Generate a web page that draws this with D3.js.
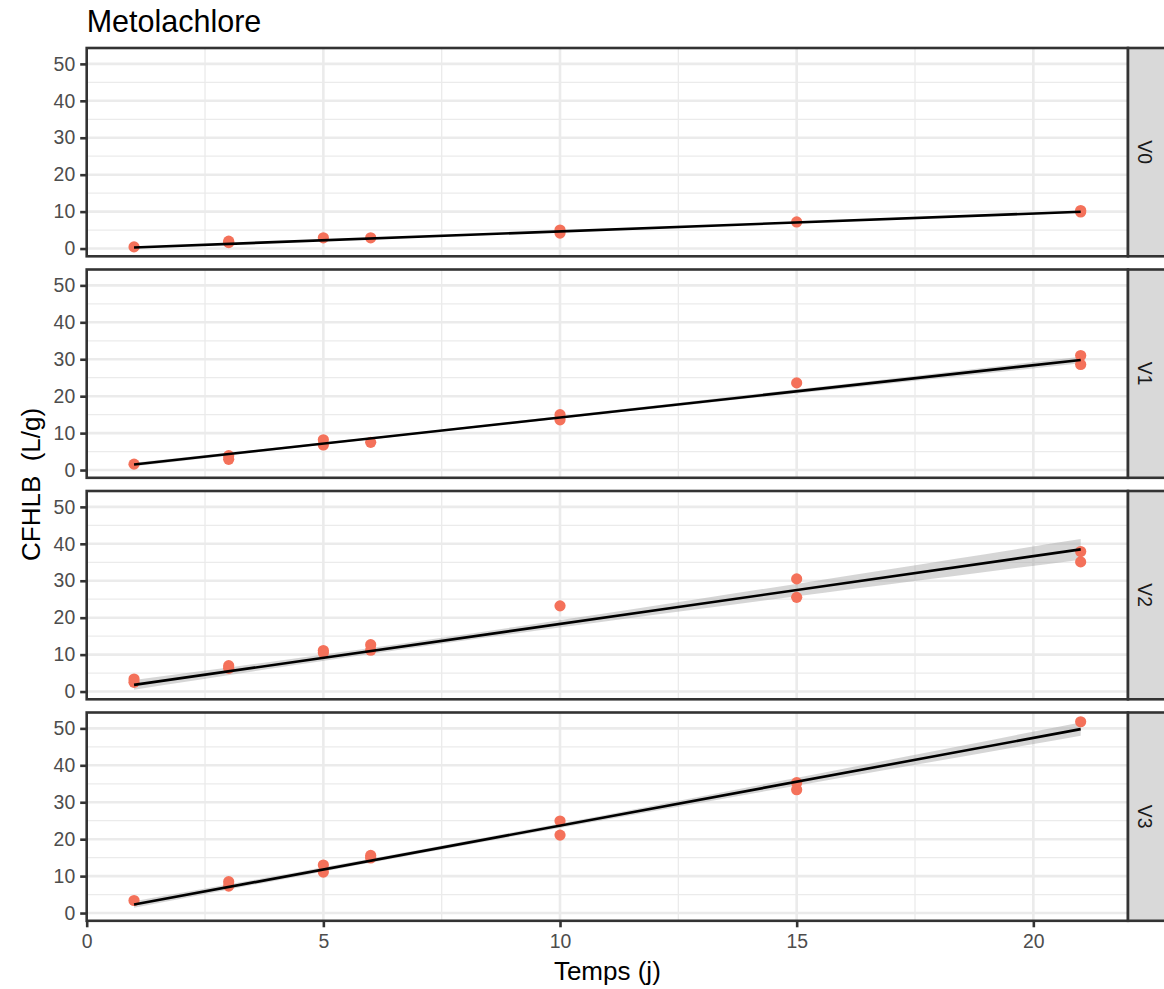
<!DOCTYPE html>
<html><head><meta charset="utf-8">
<script src="https://cdn.jsdelivr.net/npm/d3@7"></script>
<style>
body{margin:0;background:#fff}
svg{display:block}
text{font-family:"Liberation Sans",Arial,Helvetica,sans-serif}
</style>
</head><body>
<svg id="chart" width="1164" height="989"></svg>
<script>
// ---------------- data ----------------
const panels = ["V0", "V1", "V2", "V3"];
const xTicks = [0, 5, 10, 15, 20];
const xMinor = [2.5, 7.5, 12.5, 17.5];
const yTicks = [0, 10, 20, 30, 40, 50];
const yMinor = [5, 15, 25, 35, 45];

const timeV0  = [1, 3, 3, 5, 6, 10, 10, 15, 21, 21];
const cfhlbV0 = [0.45, 1.6, 2.0, 2.9, 2.9, 4.2, 5.0, 7.2, 9.9, 10.3];

const timeV1  = [1, 3, 3, 5, 5, 6, 10, 10, 15, 21, 21];
const cfhlbV1 = [1.6, 3.9, 2.9, 8.2, 6.8, 7.5, 15.0, 13.6, 23.6, 31.0, 28.6];

const timeV2  = [1, 1, 3, 3, 5, 5, 6, 6, 10, 15, 15, 21, 21];
const cfhlbV2 = [3.4, 2.5, 7.0, 6.3, 11.1, 10.5, 12.7, 11.2, 23.2, 30.5, 25.5, 37.9, 35.1];

const timeV3  = [1, 3, 3, 5, 5, 6, 6, 10, 10, 15, 15, 21];
const cfhlbV3 = [3.4, 8.5, 7.3, 13.0, 11.1, 15.6, 14.9, 24.9, 21.1, 35.3, 33.4, 51.8];

// fitted line (geom_smooth, lm): value at first and last time
const fitTimes = [1, 21];
const fitStart = [0.3, 1.5, 1.8, 2.3];
const fitEnd   = [9.95, 29.8, 38.5, 49.8];
// half-width of confidence ribbon at first time, near mean time, last time
const bandTimes = [1, 9, 21];
const bandStart = [0.15, 0.5, 1.3, 0.9];
const bandMid   = [0.08, 0.3, 0.9, 0.55];
const bandEnd   = [0.25, 0.9, 2.8, 1.8];

const seriesTime  = [timeV0, timeV1, timeV2, timeV3];
const seriesValue = [cfhlbV0, cfhlbV1, cfhlbV2, cfhlbV3];

// ---------------- layout ----------------
const svg = d3.select("#chart");
const W = 1164, H = 989;
const left = 86.7, right = 1128;
const top0 = 48, panelH = 208.3, gap = 13.2;
const stripW = 40;
const tickFont = 19.4, axisFont = 26, titleFont = 30.5;

const x = d3.scaleLinear().domain([0, 22]).range([left, right]);
const y = d3.scaleLinear().domain([-2.1, 54.3]).range([panelH, 0]);

svg.append("rect").attr("width", W).attr("height", H).attr("fill", "#fff");

panels.forEach((name, i) => {
  const ty = top0 + i * (panelH + gap);
  const g = svg.append("g").attr("transform", `translate(0,${ty})`);
  const clipId = "clip" + i;
  g.append("clipPath").attr("id", clipId)
    .append("rect").attr("x", left).attr("y", 0).attr("width", right - left).attr("height", panelH);

  // grid
  const grid = g.append("g").attr("clip-path", `url(#${clipId})`);
  grid.selectAll(".ymin").data(yMinor).join("line")
    .attr("x1", left).attr("x2", right)
    .attr("y1", d => y(d)).attr("y2", d => y(d))
    .attr("stroke", "#EBEBEB").attr("stroke-width", 1.3);
  grid.selectAll(".xmin").data(xMinor).join("line")
    .attr("y1", 0).attr("y2", panelH)
    .attr("x1", d => x(d)).attr("x2", d => x(d))
    .attr("stroke", "#EBEBEB").attr("stroke-width", 1.3);
  grid.selectAll(".ymaj").data(yTicks).join("line")
    .attr("x1", left).attr("x2", right)
    .attr("y1", d => y(d)).attr("y2", d => y(d))
    .attr("stroke", "#EBEBEB").attr("stroke-width", 2.6);
  grid.selectAll(".xmaj").data(xTicks).join("line")
    .attr("y1", 0).attr("y2", panelH)
    .attr("x1", d => x(d)).attr("x2", d => x(d))
    .attr("stroke", "#EBEBEB").attr("stroke-width", 2.6);

  // ribbon
  const bandData = bandTimes.map((t, k) => {
    const fv = fitStart[i] + (fitEnd[i] - fitStart[i]) * (t - fitTimes[0]) / (fitTimes[1] - fitTimes[0]);
    const hw = [bandStart[i], bandMid[i], bandEnd[i]][k];
    return {t, lo: fv - hw, hi: fv + hw};
  });
  const area = d3.area().curve(d3.curveNatural)
    .x(d => x(d.t)).y0(d => y(d.lo)).y1(d => y(d.hi));
  grid.append("path").datum(bandData).attr("d", area)
    .attr("fill", "#999999").attr("fill-opacity", 0.4);

  // points
  const pts = seriesTime[i].map((t, k) => ({t, v: seriesValue[i][k]}));
  grid.selectAll(".pt").data(pts).join("circle")
    .attr("cx", d => x(d.t)).attr("cy", d => y(d.v)).attr("r", 5.6)
    .attr("fill", "#F4715A");

  // fitted line
  const lineData = fitTimes.map((t, k) => ({t, v: k === 0 ? fitStart[i] : fitEnd[i]}));
  grid.append("path").datum(lineData)
    .attr("d", d3.line().x(d => x(d.t)).y(d => y(d.v)))
    .attr("fill", "none").attr("stroke", "#000").attr("stroke-width", 2.6);

  // panel border
  g.append("rect").attr("x", left).attr("y", 0).attr("width", right - left).attr("height", panelH)
    .attr("fill", "none").attr("stroke", "#333333").attr("stroke-width", 2.6);

  // strip
  g.append("rect").attr("x", right).attr("y", 0).attr("width", stripW + 20).attr("height", panelH)
    .attr("fill", "#D9D9D9").attr("stroke", "#333333").attr("stroke-width", 2.6);
  g.append("text").text(name)
    .attr("transform", `translate(${right + 17},${panelH / 2}) rotate(90)`)
    .attr("text-anchor", "middle").attr("dominant-baseline", "central")
    .attr("font-size", tickFont).attr("fill", "#1A1A1A");

  // y axis
  const ya = d3.axisLeft(y).tickValues(yTicks).tickSize(6.5).tickPadding(5).tickFormat(d3.format("d"));
  const yg = g.append("g").attr("transform", `translate(${left},0)`).call(ya);
  yg.select(".domain").remove();
  yg.selectAll(".tick line").attr("stroke", "#333333").attr("stroke-width", 2.6);
  yg.selectAll(".tick text").attr("font-size", tickFont).attr("fill", "#4D4D4D")
    .attr("font-family", "Liberation Sans, Arial, sans-serif");

  if (i === panels.length - 1) {
    const xa = d3.axisBottom(x).tickValues(xTicks).tickSize(6.5).tickPadding(7).tickFormat(d3.format("d"));
    const xg = g.append("g").attr("transform", `translate(0,${panelH})`).call(xa);
    xg.select(".domain").remove();
    xg.selectAll(".tick line").attr("stroke", "#333333").attr("stroke-width", 2.6);
    xg.selectAll(".tick text").attr("font-size", tickFont).attr("fill", "#4D4D4D")
      .attr("font-family", "Liberation Sans, Arial, sans-serif");
  }
});

// titles
svg.append("text").text("Metolachlore")
  .attr("x", left).attr("y", 32).attr("font-size", titleFont).attr("fill", "#000");
svg.append("text").text("Temps (j)")
  .attr("x", (left + right) / 2).attr("y", 980).attr("text-anchor", "middle")
  .attr("font-size", axisFont).attr("fill", "#000");
const yMid = top0 + (4 * panelH + 3 * gap) / 2;
svg.append("text").text("CFHLB  (L/g)")
  .attr("transform", `translate(40,${yMid}) rotate(-90)`)
  .attr("text-anchor", "middle").attr("xml:space", "preserve").style("white-space", "pre")
  .attr("font-size", axisFont).attr("fill", "#000");
</script>
</body></html>
